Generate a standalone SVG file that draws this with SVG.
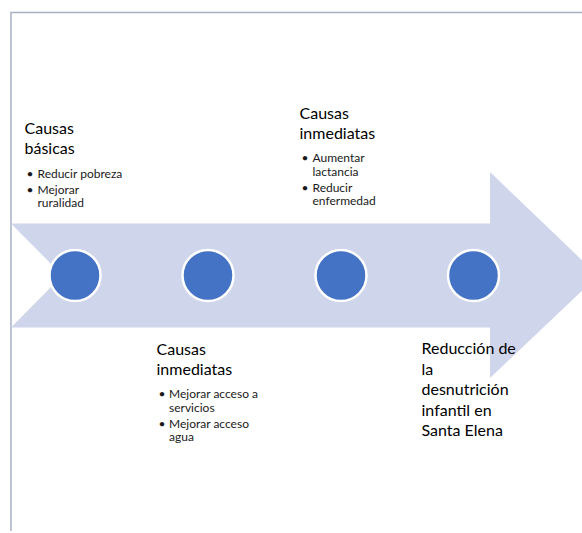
<svg xmlns="http://www.w3.org/2000/svg" width="582" height="533" viewBox="0 0 582 533">
  <style>
    .frame { fill: none; stroke: #a6b0c3; stroke-width: 1.5; }
    .arrow { fill: #cfd5ea; }
    .dot { fill: #4472c4; stroke: #ffffff; stroke-width: 2.5; }
    .h { font-family: Lato, "Liberation Sans", sans-serif; font-size: 16px; fill: #000000; }
    .b { font-family: Lato, "Liberation Sans", sans-serif; font-size: 12px; fill: #1a1a1a; }
  </style>
  <rect width="582" height="533" fill="#ffffff"/>
  <path class="frame" d="M11,531 V12.5 H582"/>
  <g id="timeline-arrow">
    <polygon class="arrow" points="11,223.5 490,223.5 490,172 598,275.5 490,378 490,327.5 11,327.5 62.5,275.5"/>
  </g>
  <g id="dot1"><circle class="dot" cx="75" cy="275.5" r="25.5"/></g>
  <g id="dot2"><circle class="dot" cx="208" cy="275.5" r="25.5"/></g>
  <g id="dot3"><circle class="dot" cx="341" cy="275.5" r="25.5"/></g>
  <g id="dot4"><circle class="dot" cx="473.5" cy="275.5" r="25.5"/></g>

  <g id="causas-basicas">
    <text class="h" x="24.5" y="133.5">Causas</text>
    <text class="h" x="24.5" y="153.5">básicas</text>
    <text class="b" x="26.5" y="177.5">•</text>
    <text class="b" x="37.5" y="177.5">Reducir pobreza</text>
    <text class="b" x="26.5" y="193.5">•</text>
    <text class="b" x="37.5" y="193.5">Mejorar</text>
    <text class="b" x="37.5" y="207">ruralidad</text>
  </g>

  <g id="causas-inmediatas-1">
    <text class="h" x="299.5" y="119">Causas</text>
    <text class="h" x="299.5" y="139">inmediatas</text>
    <text class="b" x="301.5" y="162">•</text>
    <text class="b" x="312.5" y="162">Aumentar</text>
    <text class="b" x="312.5" y="175.5">lactancia</text>
    <text class="b" x="301.5" y="191.5">•</text>
    <text class="b" x="312.5" y="191.5">Reducir</text>
    <text class="b" x="312.5" y="205">enfermedad</text>
  </g>

  <g id="causas-inmediatas-2">
    <text class="h" x="156.5" y="355">Causas</text>
    <text class="h" x="156.5" y="375">inmediatas</text>
    <text class="b" x="158.5" y="398">•</text>
    <text class="b" x="169" y="398">Mejorar acceso a</text>
    <text class="b" x="169" y="411.5">servicios</text>
    <text class="b" x="158.5" y="427.5">•</text>
    <text class="b" x="169" y="427.5">Mejorar acceso</text>
    <text class="b" x="169" y="441">agua</text>
  </g>

  <g id="resultado">
    <text class="h" x="421.5" y="354">Reducción de</text>
    <text class="h" x="421.5" y="374.5">la</text>
    <text class="h" x="421.5" y="395">desnutrición</text>
    <text class="h" x="421.5" y="415.5">infantil en</text>
    <text class="h" x="421.5" y="436">Santa Elena</text>
  </g>
</svg>
